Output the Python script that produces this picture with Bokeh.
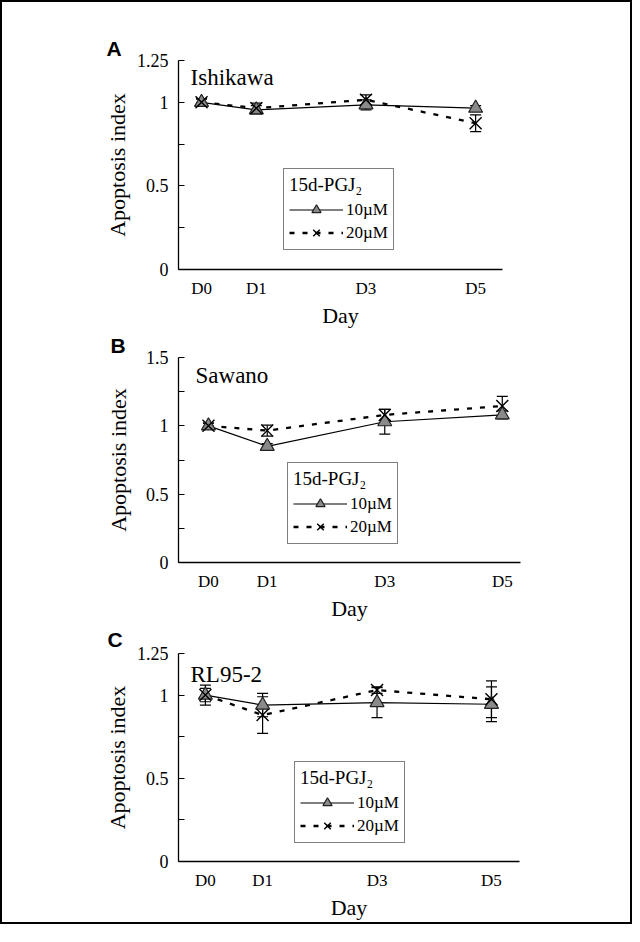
from bokeh.plotting import figure
from bokeh.models import (ColumnDataSource, Whisker, TeeHead, Legend, LegendItem,
                          Label, FixedTicker, Range1d)
from bokeh.layouts import column
from bokeh.embed import file_html
from bokeh.resources import INLINE

days = [0, 1, 3, 5]
day_labels = ["D0", "D1", "D3", "D5"]
series_labels = ["10µM", "20µM"]
legend_title = "15d-PGJ₂"
x_label = "Day"
y_label = "Apoptosis index"

# Panel A - Ishikawa
a_name = "Ishikawa"
a_10 = [1.00, 0.955, 0.985, 0.965]
a_10_err = [0.02, 0.025, 0.03, 0.015]
a_20 = [1.00, 0.965, 1.015, 0.875]
a_20_err = [0.02, 0.03, 0.03, 0.05]
a_yticks = [0, 0.5, 1, 1.25]
a_yminor = [0.25, 0.75]
a_ytick_labels = ["0", "0.5", "1", "1.25"]

# Panel B - Sawano
b_name = "Sawano"
b_10 = [1.00, 0.85, 1.03, 1.08]
b_10_err = [0.02, 0.02, 0.09, 0.03]
b_20 = [1.00, 0.965, 1.08, 1.145]
b_20_err = [0.02, 0.04, 0.04, 0.07]
b_yticks = [0, 0.5, 1, 1.5]
b_yminor = [0.25, 0.75, 1.25]
b_ytick_labels = ["0", "0.5", "1", "1.5"]

# Panel C - RL95-2
c_name = "RL95-2"
c_10 = [1.00, 0.94, 0.955, 0.945]
c_10_err = [0.06, 0.07, 0.09, 0.105]
c_20 = [1.00, 0.88, 1.03, 0.975]
c_20_err = [0.04, 0.11, 0.02, 0.11]
c_yticks = [0, 0.5, 1, 1.25]
c_yminor = [0.25, 0.75]
c_ytick_labels = ["0", "0.5", "1", "1.25"]

SERIF = "Liberation Serif"
SANS = "Liberation Sans"


def make_panel(letter, name, v10, e10, v20, e20, yticks, yminor, ylabels, g):
    p = figure(frame_width=g["fw"], frame_height=g["fh"],
               x_range=Range1d(g["x0"], g["x1"]), y_range=Range1d(0, yticks[-1]),
               output_backend="svg", toolbar_location=None,
               min_border_left=g["left"], min_border_right=g["right"],
               min_border_top=g["top"], min_border_bottom=g["bottom"])
    p.outline_line_color = None
    p.grid.visible = False
    p.background_fill_color = "white"
    p.border_fill_color = "white"

    # panel letter as title
    p.title.text = letter
    p.title.text_font = SANS
    p.title.text_font_style = "bold"
    p.title.text_font_size = "21px"
    p.title.text_color = "black"
    p.title.align = "left"
    p.title.offset = g["letter_off"]
    p.title.standoff = g["letter_standoff"]

    # axes
    xa = p.xaxis[0]
    xa.ticker = FixedTicker(ticks=days)
    xa.major_label_overrides = dict(zip(days, day_labels))
    xa.major_tick_line_color = None
    xa.minor_tick_line_color = None
    xa.axis_line_color = "black"
    xa.axis_line_width = 1.3
    xa.major_label_text_font = SERIF
    xa.major_label_text_font_size = "17px"
    xa.major_label_text_color = "black"
    xa.major_label_standoff = 3
    xa.axis_label = x_label
    xa.axis_label_text_font = SERIF
    xa.axis_label_text_font_size = "22px"
    xa.axis_label_text_font_style = "normal"
    xa.axis_label_text_color = "black"
    xa.axis_label_standoff = 2

    ya = p.yaxis[0]
    ya.ticker = FixedTicker(ticks=yticks, minor_ticks=yminor)
    ya.major_label_overrides = dict(zip(yticks, ylabels))
    ya.major_tick_in = 6
    ya.major_tick_out = 0
    ya.minor_tick_in = 6
    ya.minor_tick_out = 0
    ya.major_tick_line_color = "black"
    ya.minor_tick_line_color = "black"
    ya.axis_line_color = "black"
    ya.axis_line_width = 1.3
    ya.major_label_text_font = SERIF
    ya.major_label_text_font_size = "18px"
    ya.major_label_text_color = "black"
    ya.major_label_standoff = 10
    ya.axis_label = y_label
    ya.axis_label_text_font = SERIF
    ya.axis_label_text_font_size = "22px"
    ya.axis_label_text_font_style = "normal"
    ya.axis_label_text_color = "black"
    ya.axis_label_standoff = g["ylab"]

    # error bars
    for vals, errs in ((v10, e10), (v20, e20)):
        src = ColumnDataSource(dict(x=days,
                                    upper=[v + e for v, e in zip(vals, errs)],
                                    lower=[v - e for v, e in zip(vals, errs)]))
        w = Whisker(source=src, base="x", upper="upper", lower="lower",
                    line_color="black", line_width=1.2,
                    upper_head=TeeHead(size=11, line_color="black", line_width=1.2),
                    lower_head=TeeHead(size=11, line_color="black", line_width=1.2))
        p.add_layout(w)

    s10 = ColumnDataSource(dict(x=days, y=v10))
    s20 = ColumnDataSource(dict(x=days, y=v20))
    l20 = p.line("x", "y", source=s20, line_color="black", line_width=2.3,
                 line_dash="5 8")
    l10 = p.line("x", "y", source=s10, line_color="black", line_width=1.2)
    m10 = p.scatter("x", "y", source=s10, marker="triangle", size=14,
                    fill_color="#8a8a8a", line_color="#222222", line_width=1.2)
    m20 = p.scatter("x", "y", source=s20, marker="x", size=17,
                    line_color="black", line_width=1.4)

    legend = Legend(items=[LegendItem(label=series_labels[0], renderers=[l10, m10]),
                           LegendItem(label=series_labels[1], renderers=[l20, m20])],
                    location=g["legend"], title=legend_title)
    legend.title_text_font = SERIF
    legend.title_text_font_size = "19px"
    legend.title_text_font_style = "normal"
    legend.title_text_color = "black"
    legend.title_standoff = 2
    legend.label_text_font = SERIF
    legend.label_text_font_size = "17px"
    legend.label_text_color = "black"
    legend.glyph_width = 54
    legend.glyph_height = 23
    legend.label_height = 23
    legend.label_standoff = 3
    legend.spacing = 0
    legend.padding = 5
    legend.margin = 0
    legend.border_line_color = "black"
    legend.border_line_width = 1.2
    legend.background_fill_color = "white"
    legend.background_fill_alpha = 1
    p.add_layout(legend)

    p.add_layout(Label(x=g["name"][0], y=g["name"][1], text=name,
                       text_font=SERIF, text_font_size="23px",
                       text_baseline="alphabetic", text_align="left", text_color="black"))
    return p


pa = make_panel("A", a_name, a_10, a_10_err, a_20, a_20_err,
                a_yticks, a_yminor, a_ytick_labels,
                dict(fw=324, fh=209, left=175, right=129, top=58, bottom=59,
                     x0=-0.42, x1=5.49, legend=(105, 19), letter_off=-72,
                     letter_standoff=2, name=(-0.2, 1.15), ylab=4))
pb = make_panel("B", b_name, b_10, b_10_err, b_20, b_20_err,
                b_yticks, b_yminor, b_ytick_labels,
                dict(fw=342, fh=205, left=173, right=113, top=27, bottom=59,
                     x0=-0.51, x1=5.31, legend=(109, 18), letter_off=-68,
                     letter_standoff=2, name=(-0.22, 1.365), ylab=12))
pc = make_panel("C", c_name, c_10, c_10_err, c_20, c_20_err,
                c_yticks, c_yminor, c_ytick_labels,
                dict(fw=341, fh=208, left=176, right=111, top=30, bottom=60,
                     x0=-0.47, x1=5.49, legend=(116, 18), letter_off=-71,
                     letter_standoff=5, name=(-0.26, 1.125), ylab=4))

layout = column(pa, pb, pc, spacing=0,
                styles={"border": "2px solid black"})

open("out.html", "w").write(file_html(layout, INLINE))
